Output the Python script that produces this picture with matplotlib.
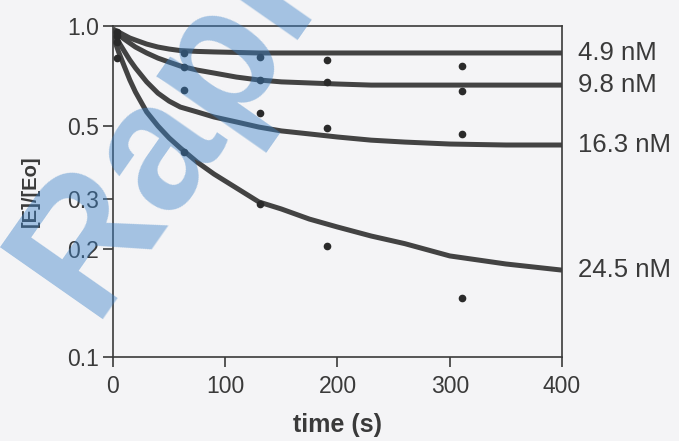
import matplotlib
matplotlib.use("Agg")
import matplotlib.pyplot as plt

plt.rcParams["font.family"] = ["Liberation Sans", "DejaVu Sans"]

# fitted decay curves
fit_time = [0, 5, 10, 15, 20, 30, 40, 50, 60, 75, 90, 110, 130, 150, 175, 200,
            230, 260, 300, 350, 400]
fit_4_9 = [0.979, 0.959, 0.939, 0.920, 0.907, 0.882, 0.864, 0.852, 0.843, 0.838,
           0.835, 0.832, 0.829, 0.829, 0.829, 0.829, 0.829, 0.829, 0.829, 0.829, 0.829]
fit_9_8 = [0.966, 0.939, 0.913, 0.888, 0.864, 0.829, 0.800, 0.778, 0.757, 0.736,
           0.721, 0.701, 0.687, 0.678, 0.673, 0.668, 0.663, 0.663, 0.663, 0.663, 0.663]
fit_16_3 = [0.952, 0.895, 0.840, 0.789, 0.747, 0.678, 0.627, 0.593, 0.569, 0.550,
            0.531, 0.513, 0.495, 0.482, 0.472, 0.462, 0.452, 0.446, 0.440, 0.437, 0.437]
fit_24_5 = [0.933, 0.835, 0.757, 0.687, 0.632, 0.550, 0.499, 0.459, 0.428, 0.388,
            0.357, 0.324, 0.294, 0.280, 0.261, 0.247, 0.232, 0.220, 0.202, 0.191, 0.183]

# measured points
obs_time = [4, 63, 131, 191, 311]
obs_4_9 = [0.959, 0.829, 0.806, 0.789, 0.757]
obs_9_8 = [0.933, 0.752, 0.687, 0.678, 0.636]
obs_16_3 = [0.895, 0.641, 0.546, 0.492, 0.472]
obs_24_5 = [0.800, 0.416, 0.290, 0.216, 0.151]

labels = ["4.9 nM", "9.8 nM", "16.3 nM", "24.5 nM"]

x_ticks = [0, 100, 200, 300, 400]
# the "0.2" tick of the original sits a little above its true log position
y_ticks = [1.0, 0.5, 0.3, 0.212, 0.1]
y_tick_labels = ["1.0", "0.5", "0.3", "0.2", "0.1"]

ink = "#3a3a3a"
line_color = "#434343"
bg = "#f4f4f6"

fig = plt.figure(figsize=(6.79, 4.41), dpi=100, facecolor=bg)
ax = fig.add_axes([0.1664, 0.1905, 0.6613, 0.7505])
ax.set_facecolor(bg)

fits = [fit_4_9, fit_9_8, fit_16_3, fit_24_5]
obs = [obs_4_9, obs_9_8, obs_16_3, obs_24_5]
for fit, points, label in zip(fits, obs, labels):
    ax.plot(fit_time, fit, color=line_color, lw=3.6, solid_capstyle="butt",
            solid_joinstyle="round", zorder=2)
    ax.plot(obs_time, points, "o", color="#2a2a2a", ms=4.5, zorder=3)
    ax.annotate(label, xy=(fit_time[-1], fit[-1]), xytext=(11.5, 0),
                textcoords="offset points", va="center", ha="left",
                fontsize=18.5, color=ink, annotation_clip=False)

ax.set_yscale("log")
ax.set_xlim(0, 400)
ax.set_ylim(0.1, 1.0)
ax.set_xticks(x_ticks)
ax.set_yticks(y_ticks)
ax.set_yticklabels(y_tick_labels)
ax.minorticks_off()
ax.tick_params(axis="both", direction="out", length=7, width=1.2, color=ink,
               labelcolor=ink, labelsize=16.5)
ax.tick_params(axis="x", pad=6)
ax.tick_params(axis="y", pad=3)
for spine in ax.spines.values():
    spine.set_color(ink)
    spine.set_linewidth(1.2)

ax.set_xlabel("time (s)", fontsize=18, fontweight="bold", color=ink, labelpad=11)
ax.set_ylabel("[E]/[Eo]", fontsize=14.5, fontweight="bold", color=ink, labelpad=20)

# translucent watermark lying over the chart
fig.text(0.135, 0.277, "Rapid", rotation=55, rotation_mode="anchor",
         ha="left", va="baseline", fontsize=130, fontweight="bold",
         color="#3c82c8", alpha=0.44, zorder=10)

fig.savefig("out.png", dpi=100, facecolor=bg)
